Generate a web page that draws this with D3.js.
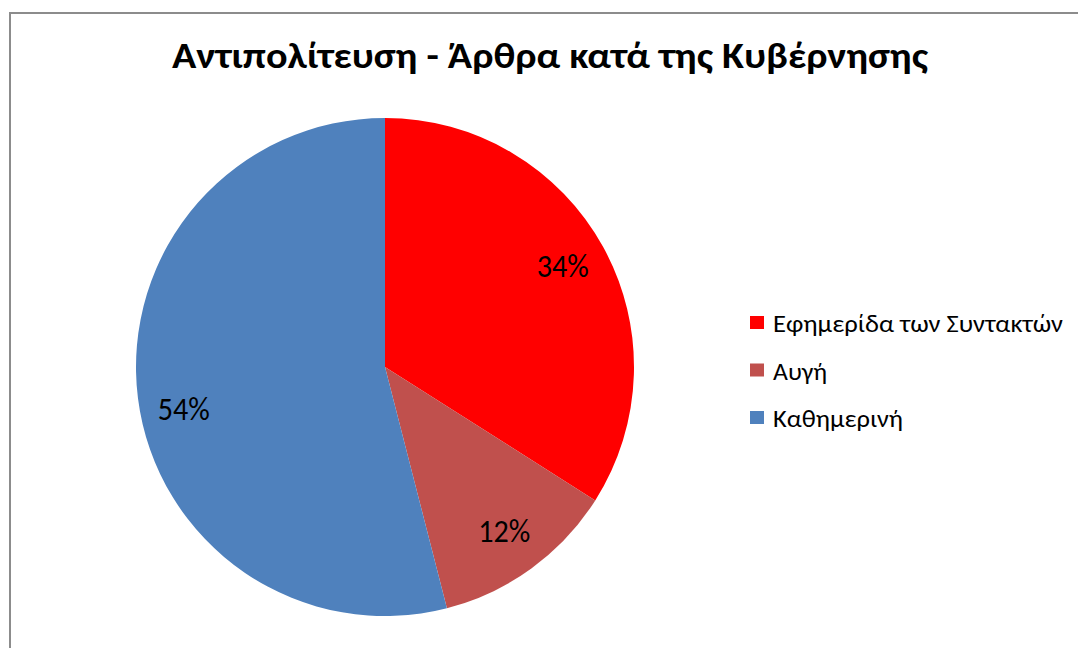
<!DOCTYPE html>
<html>
<head>
<meta charset="utf-8">
<script src="https://cdn.jsdelivr.net/npm/d3@7"></script>
<style>
html,body{margin:0;padding:0;background:#fff;}
svg{display:block;}
text{font-family:Carlito, Calibri, "Open Sans", sans-serif;fill:#000;}
</style>
</head>
<body>
<svg id="chart" width="1078" height="648"></svg>
<script>
const title = "Αντιπολίτευση - Άρθρα κατά της Κυβέρνησης";
const categories = ["Εφημερίδα των Συντακτών", "Αυγή", "Καθημερινή"];
const values = [34, 12, 54];
const colors = ["#FF0000", "#C0504D", "#4F81BD"];

const svg = d3.select("#chart");
const W = 1078, H = 648;

// chart area border
svg.append("rect")
  .attr("x", 10).attr("y", 13)
  .attr("width", W + 10).attr("height", H + 10)
  .attr("fill", "#fff").attr("stroke", "#8c8c8c").attr("stroke-width", 2);

// title
svg.append("text")
  .attr("x", 550).attr("y", 68)
  .attr("text-anchor", "middle")
  .attr("font-weight", "bold")
  .attr("font-size", 36)
  .attr("textLength", 756).attr("lengthAdjust", "spacingAndGlyphs")
  .text(title);

const cx = 385, cy = 367, R = 249;
const pie = d3.pie().sort(null).value(d => d);
const arcs = pie(values);
const arc = d3.arc().innerRadius(0).outerRadius(R);
const labelArc = d3.arc().innerRadius(R * 0.815).outerRadius(R * 0.815);
// Excel "best fit" label nudges (px), style only
const labelNudgeY = [-3, 0, 17];

const g = svg.append("g").attr("transform", `translate(${cx},${cy})`);
g.selectAll("path").data(arcs).join("path")
  .attr("d", arc)
  .attr("fill", (d, i) => colors[i]);

const total = d3.sum(values);
g.selectAll("text.lbl").data(arcs).join("text")
  .attr("class", "lbl")
  .attr("transform", (d, i) => {
    const [x, y] = labelArc.centroid(d);
    return `translate(${x},${y + labelNudgeY[i]})`;
  })
  .attr("text-anchor", "middle")
  .attr("dy", "0.33em")
  .attr("font-size", 32)
  .attr("textLength", 52).attr("lengthAdjust", "spacingAndGlyphs")
  .text(d => Math.round(d.data / total * 100) + "%");

// legend
const legendWidths = [290, 54, 130];
const lg = svg.append("g");
const rows = lg.selectAll("g").data(categories).join("g")
  .attr("transform", (d, i) => `translate(750, ${316 + i * 47.5})`);
rows.append("rect")
  .attr("width", 14).attr("height", 13)
  .attr("fill", (d, i) => colors[i]);
rows.append("text")
  .attr("x", 23).attr("y", 16)
  .attr("font-size", 25)
  .attr("textLength", (d, i) => legendWidths[i]).attr("lengthAdjust", "spacingAndGlyphs")
  .text(d => d);
</script>
</body>
</html>
